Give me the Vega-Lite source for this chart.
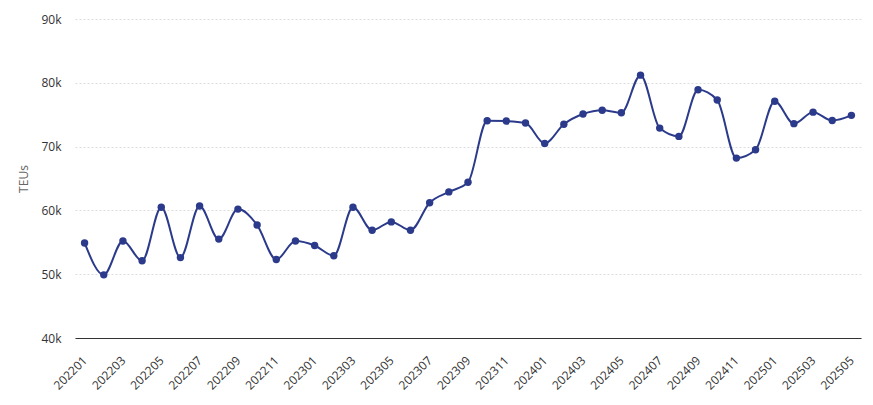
{
  "$schema": "https://vega.github.io/schema/vega-lite/v6.json",
  "width": 786,
  "height": 319,
  "autosize": {"type": "none"},
  "padding": {"left": 75, "top": 19, "right": 12, "bottom": 67},
  "background": "white",
  "config": {
    "view": {"stroke": null},
    "font": "Open Sans",
    "axis": {"labelFont": "Open Sans", "titleFont": "Open Sans", "labelFontSize": 12, "labelColor": "#333333"}
  },
  "data": {
    "values": [
      {"month": "202201", "teus": 54900},
      {"month": "202202", "teus": 49900},
      {"month": "202203", "teus": 55200},
      {"month": "202204", "teus": 52100},
      {"month": "202205", "teus": 60500},
      {"month": "202206", "teus": 52600},
      {"month": "202207", "teus": 60700},
      {"month": "202208", "teus": 55500},
      {"month": "202209", "teus": 60200},
      {"month": "202210", "teus": 57700},
      {"month": "202211", "teus": 52300},
      {"month": "202212", "teus": 55200},
      {"month": "202301", "teus": 54500},
      {"month": "202302", "teus": 52900},
      {"month": "202303", "teus": 60500},
      {"month": "202304", "teus": 56900},
      {"month": "202305", "teus": 58200},
      {"month": "202306", "teus": 56900},
      {"month": "202307", "teus": 61200},
      {"month": "202308", "teus": 62900},
      {"month": "202309", "teus": 64400},
      {"month": "202310", "teus": 74050},
      {"month": "202311", "teus": 74000},
      {"month": "202312", "teus": 73700},
      {"month": "202401", "teus": 70500},
      {"month": "202402", "teus": 73500},
      {"month": "202403", "teus": 75100},
      {"month": "202404", "teus": 75700},
      {"month": "202405", "teus": 75300},
      {"month": "202406", "teus": 81200},
      {"month": "202407", "teus": 72900},
      {"month": "202408", "teus": 71600},
      {"month": "202409", "teus": 78900},
      {"month": "202410", "teus": 77300},
      {"month": "202411", "teus": 68200},
      {"month": "202412", "teus": 69500},
      {"month": "202501", "teus": 77100},
      {"month": "202502", "teus": 73600},
      {"month": "202503", "teus": 75400},
      {"month": "202504", "teus": 74100},
      {"month": "202505", "teus": 74900}
    ]
  },
  "encoding": {
    "x": {
      "field": "month",
      "type": "ordinal",
      "sort": null,
      "scale": {"type": "point", "padding": 0.5},
      "axis": {
        "title": null,
        "values": ["202201","202203","202205","202207","202209","202211","202301","202303","202305","202307","202309","202311","202401","202403","202405","202407","202409","202411","202501","202503","202505"],
        "labelAngle": -45,
        "labelAlign": "right",
        "labelBaseline": "middle",
        "labelPadding": 20,
        "ticks": false,
        "domainColor": "#333333",
        "domainWidth": 1,
        "grid": false
      }
    },
    "y": {
      "field": "teus",
      "type": "quantitative",
      "scale": {"domain": [40000, 90000], "nice": false, "zero": false},
      "axis": {
        "title": "TEUs",
        "titleColor": "#666666",
        "titleFontWeight": "normal",
        "titleFontSize": 12,
        "titlePadding": 10,
        "values": [40000, 50000, 60000, 70000, 80000, 90000],
        "format": "~s",
        "domain": false,
        "ticks": false,
        "labelPadding": 14,
        "grid": true,
        "gridColor": "#dddddd",
        "gridDash": [2, 2],
        "gridWidth": 1
      }
    }
  },
  "layer": [
    {"mark": {"type": "line", "interpolate": "monotone", "color": "#2b3a8a", "strokeWidth": 2}},
    {"mark": {"type": "point", "filled": true, "opacity": 1, "color": "#2b3a8a", "size": 55}}
  ]
}
